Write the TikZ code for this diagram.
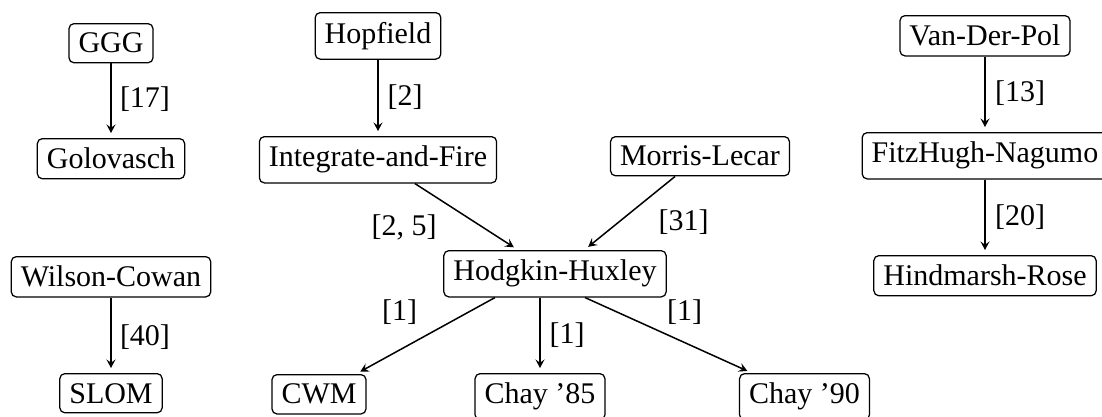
\documentclass[tikz,border=0pt]{standalone}
\usepackage{fontspec}
\setmainfont{Liberation Serif}
\usetikzlibrary{calc,arrows.meta}
\begin{document}
\begin{tikzpicture}[x=0.4pt,y=-0.4pt,
  model/.style={draw, line width=0.5pt, rounded corners=2pt, inner sep=3.8pt,
    anchor=north, font=\fontsize{12}{14}\selectfont},
  lbl/.style={inner sep=0pt, font=\fontsize{12}{14}\selectfont},
  arr/.style={-{Stealth[length=3.4pt,width=3.6pt,inset=1.3pt]}, line width=0.6pt, shorten >=2pt}]
\useasboundingbox (0,0) rectangle (1102,416);

% model boxes
\node[model] (ggg)  at (111,23)  {GGG};
\node[model] (golo) at (111,138) {Golovasch};
\node[model] (wc)   at (111,256) {Wilson-Cowan};
\node[model] (slom) at (111,373) {SLOM};
\node[model] (hop)  at (378,12)  {Hopfield};
\node[model] (iaf)  at (378,136) {Integrate-and-Fire};
\node[model] (ml)   at (700,136) {Morris-Lecar};
\node[model] (hh)   at (555,250) {Hodgkin-Huxley};
\node[model] (cwm)  at (319,374) {CWM};
\node[model] (c85)  at (540,373) {Chay ’85};
\node[model] (c90)  at (804.5,373) {Chay ’90};
\node[model] (vdp)  at (985,15)  {Van-Der-Pol};
\node[model] (fhn)  at (985,132) {FitzHugh-Nagumo};
\node[model] (hr)   at (985,255) {Hindmarsh-Rose};

% derivations
\draw[arr] (ggg) -- (golo);
\draw[arr] (wc) -- (slom);
\draw[arr] (hop) -- (iaf);
\draw[arr] (iaf) -- (hh);
\draw[arr] (ml) -- (hh);
\draw[arr] ($(hh.south)+(-60,0)$) -- (cwm);
\draw[arr] (c85.north |- hh.south) -- (c85);
\draw[arr] ($(hh.south)+(30,0)$) -- (c90);
\draw[arr] (vdp) -- (fhn);
\draw[arr] (fhn) -- (hr);

% references
\node[lbl] (l17)  at (145,99)   {[17]};
\node[lbl] (l40)  at (145,337)  {[40]};
\node[lbl] (l2)   at (405,97)   {[2]};
\node[lbl] (l25)  at (404,227)  {[2, 5]};
\node[lbl] (l31)  at (683.5,222) {[31]};
\node[lbl] (l1a)  at (399.5,312) {[1]};
\node[lbl] (l1b)  at (567,335)  {[1]};
\node[lbl] (l1c)  at (684.5,312) {[1]};
\node[lbl] (l13)  at (1020,93)  {[13]};
\node[lbl] (l20)  at (1020,217) {[20]};
\end{tikzpicture}
\end{document}
